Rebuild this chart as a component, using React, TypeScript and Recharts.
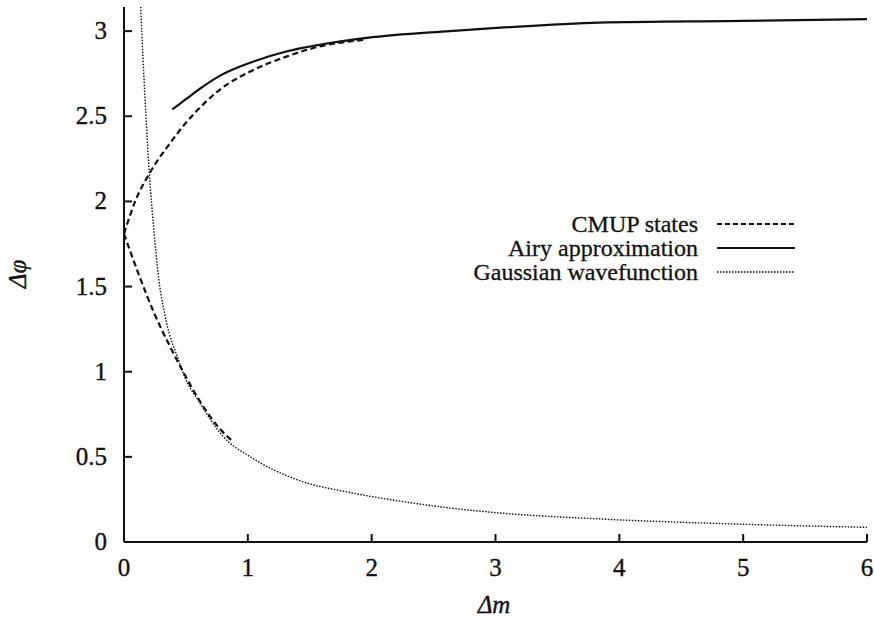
import { LineChart, Line, XAxis, YAxis, Legend } from 'recharts';

const FONT = '"Liberation Serif", "Times New Roman", serif';
const INK = '#111';

// CMUP states (two branches from the common start point)
const cmupUpperM = [0, 0.09, 0.21, 0.37, 0.51, 0.64, 0.78, 1.04, 1.31, 1.58, 1.96];
const cmupUpperPhi = [1.81, 2.0, 2.17, 2.34, 2.47, 2.57, 2.66, 2.77, 2.85, 2.91, 2.95];
const cmupLowerM = [0, 0.13, 0.24, 0.37, 0.47, 0.61, 0.78, 0.88];
const cmupLowerPhi = [1.81, 1.55, 1.35, 1.15, 1.01, 0.83, 0.66, 0.59];

// Airy approximation
const airyM = [0.39, 0.5, 0.61, 0.78, 1.04, 1.31, 1.58, 1.96, 2.63, 3.04, 3.84, 5.0, 6.0];
const airyPhi = [2.54, 2.6, 2.66, 2.74, 2.82, 2.88, 2.92, 2.96, 3.0, 3.02, 3.05, 3.06, 3.07];

// Gaussian wavefunction
const gaussM = [0.125, 0.135, 0.17, 0.205, 0.24, 0.28, 0.34, 0.44, 0.49, 0.61, 0.8, 1.02, 1.42, 1.83, 2.23, 2.63, 3.04, 3.85, 4.92, 6.0];
const gaussPhi = [3.32, 3.14, 2.6, 2.16, 1.84, 1.55, 1.3, 1.07, 0.97, 0.82, 0.62, 0.5, 0.36, 0.29, 0.24, 0.2, 0.17, 0.135, 0.106, 0.086];

const xTicks = [0, 1, 2, 3, 4, 5, 6];
const yTicks = [0, 0.5, 1, 1.5, 2, 2.5, 3];

const legendItems = [
  { name: 'CMUP states', dash: '5 3', width: 2 },
  { name: 'Airy approximation', dash: undefined, width: 2 },
  { name: 'Gaussian wavefunction', dash: '1.5 1.5', width: 1.3 },
];

const zip = (m: number[], phi: number[]) => m.map((v, i) => ({ m: v, phi: phi[i] }));

const cmupUpper = zip(cmupUpperM, cmupUpperPhi);
const cmupLower = zip(cmupLowerM, cmupLowerPhi);
const airy = zip(airyM, airyPhi);
const gauss = zip(gaussM, gaussPhi);

const Y_MAX = 3.1416;
const textStyle = { fontFamily: FONT, fontSize: 25, fill: INK, stroke: INK, strokeWidth: 0.35 };

function BottomTick({ x, y, payload }: any) {
  return (
    <g>
      <line x1={x} y1={y} x2={x} y2={y - 8} stroke={INK} strokeWidth={2} />
      <text x={x} y={y + 34} textAnchor="middle" style={textStyle}>
        {payload.value}
      </text>
    </g>
  );
}

function LeftTick({ x, y, payload }: any) {
  return (
    <g>
      <line x1={x} y1={y} x2={x + 8} y2={y} stroke={INK} strokeWidth={2} />
      <text x={x - 17} y={y + 8} textAnchor="end" style={textStyle}>
        {payload.value}
      </text>
    </g>
  );
}

function TopTick({ x, y }: any) {
  return <line x1={x} y1={y} x2={x} y2={y + 8} stroke={INK} strokeWidth={2} />;
}

function RightTick({ x, y }: any) {
  return <line x1={x} y1={y} x2={x - 8} y2={y} stroke={INK} strokeWidth={2} />;
}

function KeyBox() {
  return (
    <div style={{ fontFamily: FONT, fontSize: 24, color: INK, WebkitTextStroke: '0.3px #111' }}>
      {legendItems.map((it) => (
        <div key={it.name} style={{ display: 'flex', alignItems: 'center', height: 24 }}>
          <div style={{ width: 698, textAlign: 'right', lineHeight: '24px' }}>{it.name}</div>
          <svg width={97} height={24} style={{ display: 'block' }}>
            <line x1={19} y1={12} x2={97} y2={12} stroke={INK} strokeWidth={it.width} strokeDasharray={it.dash} />
          </svg>
        </div>
      ))}
    </div>
  );
}

export default function App() {
  return (
    <div style={{ position: 'absolute', left: 0, top: 0 }}>
      <LineChart width={874} height={619} margin={{ top: 7, right: 7, bottom: 0, left: 0 }}>
        <XAxis
          dataKey="m"
          type="number"
          domain={[0, 6]}
          ticks={xTicks}
          interval={0}
          height={77}
          tickSize={0}
          tickMargin={0}
          tick={BottomTick}
          axisLine={{ stroke: INK, strokeWidth: 2 }}
          label={{
            content: () => (
              <text x={494} y={613} textAnchor="middle" style={{ ...textStyle, fontStyle: 'italic' }}>
                Δm
              </text>
            ),
          }}
        />
        <XAxis
          xAxisId="top"
          orientation="top"
          type="number"
          domain={[0, 6]}
          ticks={xTicks}
          interval={0}
          height={0}
          tickSize={0}
          tickMargin={0}
          tick={TopTick}
          axisLine={{ stroke: INK, strokeWidth: 2 }}
        />
        <YAxis
          type="number"
          domain={[0, Y_MAX]}
          allowDataOverflow
          ticks={yTicks}
          interval={0}
          width={124}
          tickSize={0}
          tickMargin={0}
          tick={LeftTick}
          axisLine={{ stroke: INK, strokeWidth: 2 }}
          label={{
            content: () => (
              <text
                x={17}
                y={274}
                transform="rotate(-90, 17, 274)"
                textAnchor="middle"
                dominantBaseline="central"
                style={{ ...textStyle, fontStyle: 'italic' }}
              >
                Δφ
              </text>
            ),
          }}
        />
        <YAxis
          yAxisId="right"
          orientation="right"
          type="number"
          domain={[0, Y_MAX]}
          ticks={yTicks}
          interval={0}
          width={0}
          tickSize={0}
          tickMargin={0}
          tick={RightTick}
          axisLine={{ stroke: INK, strokeWidth: 2 }}
        />
        <Legend
          layout="vertical"
          align="center"
          verticalAlign="middle"
          content={KeyBox}
          wrapperStyle={{ left: 0, top: 212, width: 874 }}
        />
        <Line data={cmupUpper} dataKey="phi" type="monotone" stroke={INK} strokeWidth={2.2} strokeDasharray="6 3.5" dot={false} isAnimationActive={false} />
        <Line data={cmupLower} dataKey="phi" type="monotone" stroke={INK} strokeWidth={2.2} strokeDasharray="6 3.5" dot={false} isAnimationActive={false} />
        <Line data={airy} dataKey="phi" type="monotone" stroke={INK} strokeWidth={2.2} dot={false} isAnimationActive={false} />
        <Line data={gauss} dataKey="phi" type="monotone" stroke={INK} strokeWidth={1.4} strokeDasharray="1.5 1.5" dot={false} isAnimationActive={false} />
      </LineChart>
    </div>
  );
}
